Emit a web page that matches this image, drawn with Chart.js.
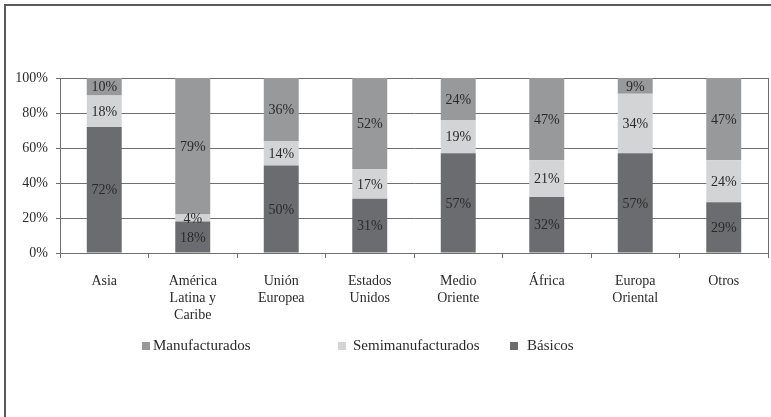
<!DOCTYPE html>
<html lang="es">
<head>
<meta charset="UTF-8">
<title>Exportaciones por destino</title>
<script src="https://cdn.jsdelivr.net/npm/chart.js"></script>
<style>
    html, body { margin: 0; padding: 0; background: #fff; }
    .wrap { position: relative; width: 771px; height: 417px; }
    .frame {
        position: absolute; left: 4px; top: 4px; right: -10px; bottom: -10px;
        border-top: 2px solid #5a5a5a; border-left: 2px solid #5a5a5a;
    }
    canvas { position: absolute; left: 0; top: 0; }
</style>
</head>
<body>
<div class="wrap">
    <div class="frame"></div>
    <canvas id="chart" width="771" height="417"></canvas>
</div>
<script>
// data
const regions = [
    'Asia',
    ['América', 'Latina y', 'Caribe'],
    ['Unión', 'Europea'],
    ['Estados', 'Unidos'],
    ['Medio', 'Oriente'],
    'África',
    ['Europa', 'Oriental'],
    'Otros'
];
const basicos = [72, 18, 50, 31, 57, 32, 57, 29];
const semimanufacturados = [18, 4, 14, 17, 19, 21, 34, 24];
const manufacturados = [10, 79, 36, 52, 24, 47, 9, 47];
const yTicks = [0, 20, 40, 60, 80, 100];

const FONT = '"Liberation Serif", "DejaVu Serif", serif';

// labels inside each segment
const segmentLabels = {
    id: 'segmentLabels',
    afterDatasetsDraw(chart) {
        const ctx = chart.ctx;
        ctx.save();
        ctx.font = '14px ' + FONT;
        ctx.fillStyle = '#2a2a2a';
        ctx.textAlign = 'center';
        ctx.textBaseline = 'middle';
        chart.data.datasets.forEach((ds, i) => {
            chart.getDatasetMeta(i).data.forEach((bar, j) => {
                const p = bar.getProps(['x', 'y', 'base'], true);
                const top = Math.max(p.y, chart.chartArea.top);
                ctx.fillText(ds.data[j] + '%', p.x, (top + p.base) / 2 + 1);
            });
        });
        ctx.restore();
    }
};

// legend drawn by hand so items can be spread like the original
const spreadLegend = {
    id: 'spreadLegend',
    afterDraw(chart, args, opts) {
        const ctx = chart.ctx;
        const order = [2, 1, 0];
        ctx.save();
        ctx.font = '15px ' + FONT;
        ctx.textBaseline = 'middle';
        ctx.textAlign = 'left';
        order.forEach((di, k) => {
            const ds = chart.data.datasets[di];
            const bx = opts.boxX[k];
            ctx.fillStyle = ds.backgroundColor;
            ctx.fillRect(bx, opts.y - 4, 8, 8);
            ctx.fillStyle = '#2a2a2a';
            ctx.fillText(ds.label, opts.textX[k], opts.y);
        });
        ctx.restore();
    }
};

new Chart(document.getElementById('chart'), {
    type: 'bar',
    data: {
        labels: regions,
        datasets: [
            { label: 'Básicos', data: basicos, backgroundColor: '#6b6c6f' },
            { label: 'Semimanufacturados', data: semimanufacturados, backgroundColor: '#d3d4d5' },
            { label: 'Manufacturados', data: manufacturados, backgroundColor: '#98999b' }
        ]
    },
    options: {
        responsive: false,
        animation: false,
        layout: { padding: { top: 78, left: 6, right: 3, bottom: 94 } },
        datasets: { bar: { barPercentage: 0.395, categoryPercentage: 1 } },
        plugins: {
            legend: { display: false },
            tooltip: { enabled: false },
            spreadLegend: { y: 346, boxX: [142, 338, 510], textX: [153, 353, 527] }
        },
        scales: {
            x: {
                stacked: true,
                afterFit: s => { s.height = 70; },
                grid: { drawOnChartArea: false, drawTicks: true, tickLength: 5, color: '#6f6f6f', offset: true },
                border: { color: '#6f6f6f' },
                ticks: { font: { family: FONT, size: 14, lineHeight: 1.2 }, color: '#2a2a2a', padding: 15, maxRotation: 0, autoSkip: false }
            },
            y: {
                stacked: true,
                min: 0,
                max: 100,
                afterFit: s => { s.width = 54; },
                afterBuildTicks: s => { s.ticks = yTicks.map(v => ({ value: v })); },
                grid: { color: '#6f6f6f', tickLength: 4 },
                border: { color: '#6f6f6f' },
                ticks: { font: { family: FONT, size: 14 }, color: '#2a2a2a', padding: 8, callback: v => v + '%' }
            },
            y2: {
                position: 'right',
                min: 0,
                max: 100,
                afterFit: s => { s.width = 0; },
                grid: { display: false },
                border: { display: true, color: '#6f6f6f' },
                ticks: { display: false }
            }
        }
    },
    plugins: [segmentLabels, spreadLegend]
});
</script>
</body>
</html>
